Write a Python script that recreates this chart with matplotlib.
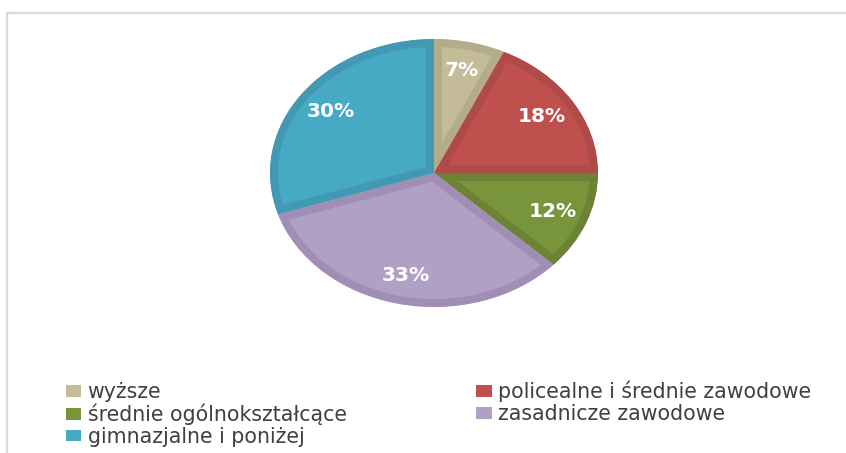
import matplotlib.pyplot as plt
from matplotlib.lines import Line2D
from matplotlib.patches import Patch

plt.switch_backend('agg')

labels = ['wyższe', 'policealne i średnie zawodowe', 'średnie ogólnokształcące',
          'zasadnicze zawodowe', 'gimnazjalne i poniżej']
shares = [7, 18, 12, 33, 30]
face_colors = ['#C4BC98', '#C0504D', '#78953C', '#B1A0C6', '#47AAC5']
edge_colors = ['#B3AC88', '#AE4B48', '#6C8336', '#A18EB5', '#4399B3']

W, H = 846, 453
fig = plt.figure(figsize=(W / 100, H / 100), dpi=100)

# elliptical pie: axes box sized in pixels, aspect left free
cx, cy, rx, ry = 434, 173, 164, 134
ax = fig.add_axes([(cx - rx) / W, (H - cy - ry) / H, 2 * rx / W, 2 * ry / H])
wedges, texts, autotexts = ax.pie(
    shares, colors=face_colors, startangle=90, counterclock=False,
    autopct=lambda p: f'{p:.0f}%', pctdistance=0.78,
    wedgeprops=dict(linewidth=11.5),
    textprops=dict(color='white', fontsize=14.5, fontweight='bold',
                   family='DejaVu Sans'))
for w, ec in zip(wedges, edge_colors):
    w.set_edgecolor(ec)
    w.set_clip_on(True)  # pie turns clipping off
    w.set_clip_path(w)  # keep only the inner half of the stroke
ax.set_aspect('auto')
ax.set_xlim(-1, 1)
ax.set_ylim(-1, 1)
ax.axis('off')

# legend, row-major order like the original
order = [0, 2, 4, 1, 3]
handles = [Patch(facecolor=face_colors[i], edgecolor='none') for i in order]
fig.legend(handles, [labels[i] for i in order], ncol=2,
           loc='upper left', bbox_to_anchor=(66 / W, 1 - 381 / H),
           frameon=False, borderpad=0, borderaxespad=0,
           handlelength=0.75, handleheight=0.5, handletextpad=0.3,
           labelspacing=0.07, columnspacing=6.3,
           prop=dict(family='DejaVu Sans', size=14.8), labelcolor='#404040')

# chart area border (top and left edges visible)
fig.add_artist(Line2D([7 / W, 7 / W, 1], [0, 1 - 13 / H, 1 - 13 / H],
                      transform=fig.transFigure, color='#D9D9D9', lw=1.6))

fig.savefig('out.png', dpi=100)
